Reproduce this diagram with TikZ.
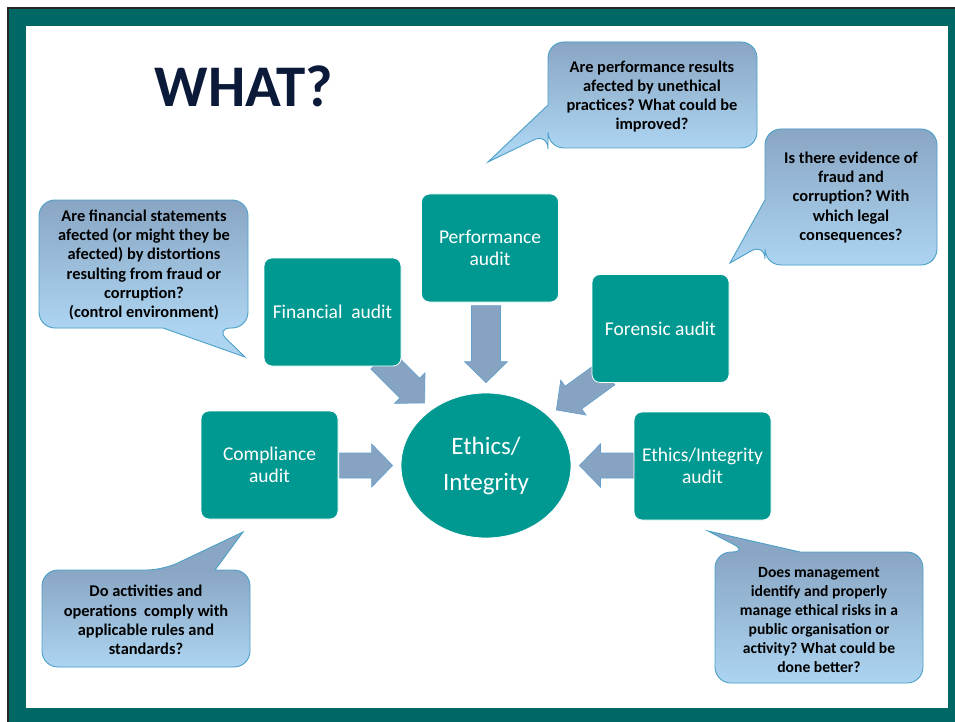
\documentclass[tikz,border=0pt]{standalone}
\usepackage{fontspec}
\setmainfont{Carlito}
\usetikzlibrary{shapes.geometric,calc}

\definecolor{boxteal}{RGB}{0,153,145}
\definecolor{frameteal}{RGB}{0,104,100}
\definecolor{arrowfill}{RGB}{134,164,193}
\definecolor{arrowline}{RGB}{100,160,205}
\definecolor{bubtop}{RGB}{137,166,196}
\definecolor{bubbot}{RGB}{172,212,240}
\definecolor{bubline}{RGB}{75,160,200}
\definecolor{titlenavy}{RGB}{12,26,58}

% speech bubble: #1 outline path, #2 top edge, #3 bottom edge of the box part
\newcommand{\speechbubble}[3]{%
  \begin{scope}
    \clip #1;
    \fill[bubtop] (0,0) rectangle (955,#2);
    \shade[top color=bubtop,bottom color=bubbot] (0,#2) rectangle (955,#3);
    \fill[bubbot] (0,#3) rectangle (955,722);
  \end{scope}
  \draw[bubline,line width=0.9] #1;}

\tikzset{
  auditbox/.style={draw=white, line width=0.8, fill=boxteal, rounded corners=8,
    minimum width=137, minimum height=108, text=white, align=center, inner sep=2,
    font=\fontsize{19.5}{21.5}\selectfont},
  qtext/.style={align=center, text=black, inner sep=0,
    font=\fontsize{16.4}{19.3}\selectfont\bfseries},
  arrowbody/.style={fill=arrowfill, draw=arrowline, line width=0.7, line join=miter},
  pics/blockarrow/.style n args={2}{code={
    \draw[arrowbody] (0,0) -- (-21,21.5) -- (-21,#2) -- (-#1,#2) -- (-#1,-#2)
      -- (-21,-#2) -- (-21,-21.5) -- cycle;}}
}

\begin{document}
\frenchspacing
\begin{tikzpicture}[x=1pt,y=-1pt]
\useasboundingbox (0,0) rectangle (955,722);

% frame
\fill[white] (0,0) rectangle (955,722);
\fill[black!85] (7,7) rectangle (955,722);
\fill[frameteal] (9,9) rectangle (955,722);
\fill[white] (26,26) rectangle (948,708);

% title
\node[font=\fontsize{59}{60}\selectfont\bfseries, text=titlenavy, inner sep=0]
  (title) at (244,86) {WHAT?};

% central ellipse
\node[ellipse, fill=boxteal, draw=white, line width=0.8, minimum width=170,
  minimum height=145, inner sep=0, text=white, align=center,
  font=\fontsize{25}{36}\selectfont] (core) at (486,465.5) {Ethics/\\Integrity};

% block arrows (drawn before the boxes so the boxes overlap their tails)
\pic[rotate=-90] at ($(core.north)+(0,-10)$) {blockarrow={77}{14.5}};
\pic[rotate=-45] at ($(core.north west)+(-1,-11)$) {blockarrow={62}{14}};
\pic[rotate=-144] at ($(core.north east)+(10,-4)$) {blockarrow={62}{14}};
\pic[rotate=0] at ($(core.west)+(-8,0)$) {blockarrow={53}{12.5}};
\pic[rotate=180] at ($(core.east)+(8,0)$) {blockarrow={55}{12.5}};

% audit boxes
\node[auditbox] (perf) at (490,248) {Performance\\audit};
\node[auditbox] (fin) at (332.5,312) {Financial~~audit};
\node[auditbox] (for) at (660.5,328.5) {Forensic audit};
\node[auditbox] (comp) at (269.5,465) {Compliance\\audit};
\node[auditbox] (eth) at (702.5,466) {Ethics/Integrity\\audit};

% speech bubbles
\speechbubble{(163,328) [rounded corners=16] -- (39,328) -- (39,200) -- (248,200)
  -- (248,328) -- (215,328) [sharp corners] -- (245,357) -- cycle}{200}{328}
\speechbubble{(548,105) [rounded corners=16] -- (548,42) -- (757,42) -- (757,148)
  -- (548,148) -- (548,133) [sharp corners] -- (488,162) -- cycle}{42}{148}
\speechbubble{(765,200) [rounded corners=16] -- (765,129) -- (937,129) -- (937,265)
  -- (765,265) -- (765,243) [sharp corners] -- (730,263) -- cycle}{129}{265}
\speechbubble{(215,570) [rounded corners=16] -- (250,570) -- (250,667) -- (42,667)
  -- (42,570) -- (163,570) [sharp corners] -- (243,532) -- cycle}{570}{667}
\speechbubble{(800,552) [rounded corners=16] -- (923,552) -- (923,683) -- (715,683)
  -- (715,552) -- (748,552) [sharp corners] -- (708,531) -- cycle}{552}{683}

% bubble texts
\node[qtext] (q1) at (144,265) {Are financial statements\\afected (or might they be\\afected) by distortions\\resulting from fraud or\\corruption?\\(control environment)};
\node[qtext] (q2) at (652,96.5) {Are performance results\\afected by unethical\\practices? What could be\\improved?};
\node[qtext] (q3) at (851,197.5) {Is there evidence of\\fraud and\\corruption? With\\which legal\\consequences?};
\node[qtext] (q4) at (146,620) {Do activities and\\operations\ \ comply with\\applicable rules and\\standards?};
\node[qtext, font=\fontsize{15.6}{19}\selectfont\bfseries] (q5) at (819,620) {Does management\\identify and properly\\manage ethical risks in a\\public organisation or\\activity? What could be\\done better?};
\end{tikzpicture}
\end{document}
